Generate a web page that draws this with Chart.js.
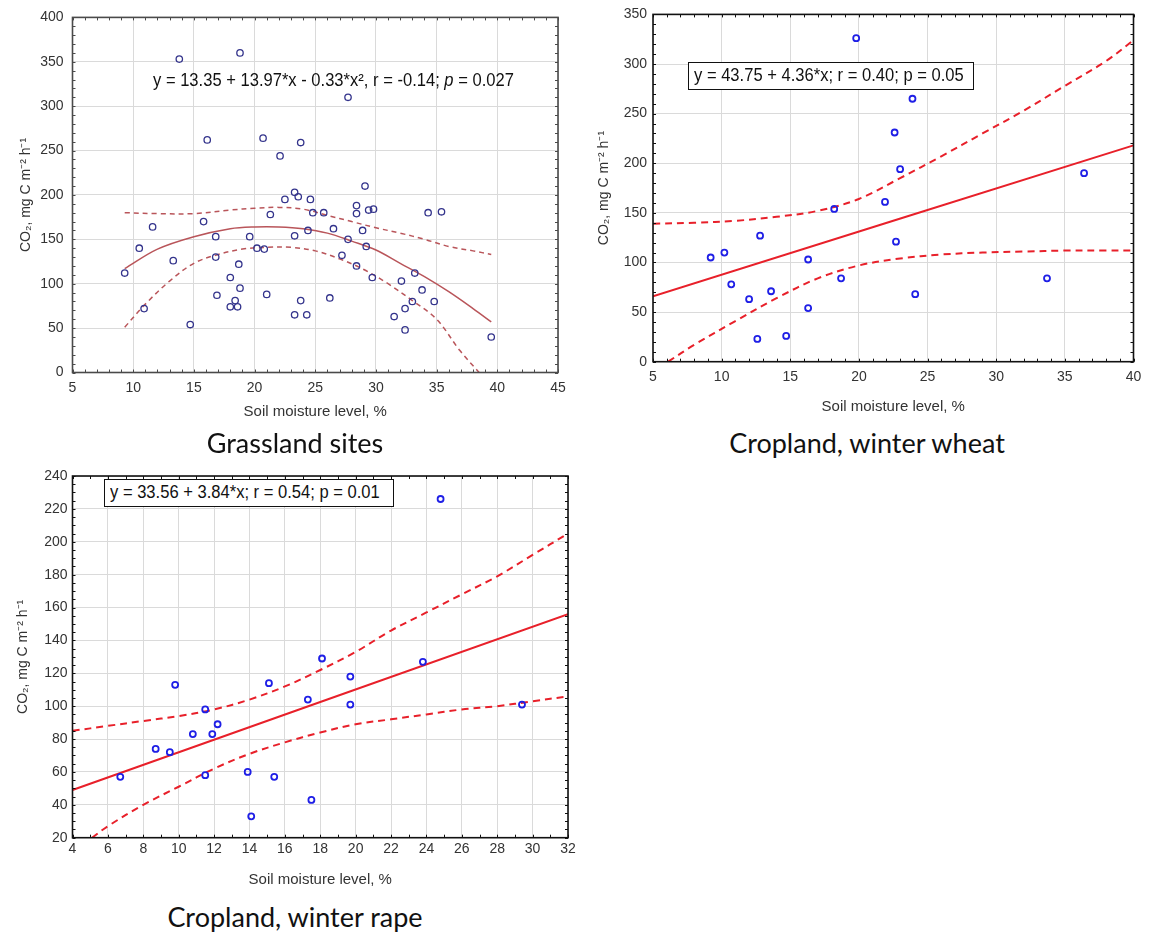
<!DOCTYPE html>
<html lang="en">
<head>
<meta charset="UTF-8" />
<title>Soil CO2 efflux vs soil moisture</title>
<script src="https://cdn.jsdelivr.net/npm/chart.js"></script>
<style>
  body { margin: 0; background: #fff; width: 1150px; height: 933px; position: relative; overflow: hidden; }
  .box { position: absolute; }
  .eq { position: absolute; font-family: 'Liberation Sans', Arial, sans-serif; font-size: 18px; color: #111; white-space: nowrap; line-height: 20px; }
  .eq span { display: inline-block; transform-origin: left center; }
  .framed { box-sizing: border-box; border: 1.5px solid #111; background: #fff; padding: 0 5px; line-height: 25px; }
  .caption { position: absolute; font-family: Lato, 'Open Sans', sans-serif; font-size: 27px; color: #111; transform: translateX(-50%); white-space: nowrap; line-height: 30px; }
</style>
</head>
<body>
<div class="box" style="left:0;top:0;width:575px;height:430px"><canvas id="grass"></canvas></div>
<div class="box" style="left:580px;top:0;width:570px;height:420px"><canvas id="wheat"></canvas></div>
<div class="box" style="left:0;top:460px;width:590px;height:440px"><canvas id="rape"></canvas></div>

<div class="eq" style="left:153px;top:70px"><span style="transform:scaleX(0.92)">y = 13.35 + 13.97*x - 0.33*x², r = -0.14; <i>p</i> = 0.027</span></div>
<div class="eq framed" style="left:688px;top:62px;width:286px;height:28px"><span style="transform:scaleX(0.92)">y = 43.75 + 4.36*x; r = 0.40; p = 0.05</span></div>
<div class="eq framed" style="left:104px;top:479px;width:290px;height:28px"><span style="transform:scaleX(0.92)">y = 33.56 + 3.84*x; r = 0.54; p = 0.01</span></div>

<div class="caption" style="left:295px;top:428px">Grassland sites</div>
<div class="caption" style="left:867px;top:428px">Cropland, winter wheat</div>
<div class="caption" style="left:295px;top:902px">Cropland, winter rape</div>

<script>
// ---- Grassland sites ----
const grassX = [9.3, 10.5, 10.9, 11.6, 13.3, 13.8, 14.7, 15.8, 16.1, 16.8, 16.8, 16.9, 18.0, 18.0, 18.4, 18.6,
  18.8, 18.7, 18.8, 19.6, 20.2, 20.8, 20.7, 21.0, 21.3, 22.1, 22.5, 23.3, 23.6, 23.3, 23.3, 23.8, 23.8, 24.3,
  24.4, 24.6, 24.8, 25.7, 26.2, 26.5, 27.2, 27.7, 27.7, 28.4, 28.4, 28.4, 28.9, 29.1, 29.2, 29.4, 29.8, 29.7,
  31.5, 32.1, 32.4, 32.4, 33.0, 33.2, 33.8, 34.3, 34.8, 35.4, 39.5];
const grassY = [112, 140, 72, 164, 126, 353, 54, 170, 262, 153, 130, 87, 107, 74, 81, 74,
  95, 122, 360, 153, 140, 139, 264, 88, 178, 244, 195, 203, 198, 154, 65, 259, 81, 65,
  160, 195, 180, 180, 84, 162, 132, 310, 150, 188, 179, 120, 160, 210, 142, 183, 184, 107,
  63, 103, 72, 48, 80, 112, 93, 180, 80, 181, 40];
const grassFitX = [9.3, 12, 15, 18, 20, 22, 24, 26, 28, 30, 32, 34, 36, 38, 39.5];
const grassFitY = [117, 139, 153, 162, 164, 164, 162, 157, 148, 138, 123, 108, 91, 72, 57];
const grassUpX = [9.3, 12, 15, 18, 20, 22, 24, 26, 28, 30, 32, 34, 36, 38, 39.5];
const grassUpY = [180, 179, 179, 183, 185, 186, 184, 177, 170, 163, 157, 150, 142, 137, 133];
const grassLowX = [9.3, 11, 13, 15, 17, 19, 21, 23, 25, 27, 29, 31, 33, 35, 36.9, 38.5];
const grassLowY = [51, 77, 103, 123, 133, 139, 141, 141, 137, 128, 116, 100, 81, 60, 25, 0];
const grassXTicks = [5, 10, 15, 20, 25, 30, 35, 40, 45];
const grassYTicks = [0, 50, 100, 150, 200, 250, 300, 350, 400];

// ---- Cropland, winter wheat ----
const wheatX = [9.2, 10.2, 10.7, 12.0, 12.6, 12.8, 13.6, 14.7, 16.3, 16.3, 18.2, 18.7, 19.8, 21.9, 22.6, 22.7, 23.0, 23.9, 24.1, 33.7, 36.4];
const wheatY = [105, 110, 78, 63, 23, 127, 71, 26, 103, 54, 154, 84, 326, 161, 231, 121, 194, 265, 68, 84, 190];
const wheatFitX = [5, 40];
const wheatFitY = [66, 218];
const wheatUpX = [5, 8, 11, 14, 17, 20, 23, 26, 29, 32, 35, 38, 40];
const wheatUpY = [139, 140, 142, 146, 152, 164, 185, 207, 230, 253, 278, 303, 324];
const wheatLowX = [6.1, 8, 11, 14, 17, 20, 23, 26, 29, 32, 35, 38, 40];
const wheatLowY = [0, 17, 41, 64, 84, 97, 104, 108, 110, 111, 112, 112, 112];
const wheatXTicks = [5, 10, 15, 20, 25, 30, 35, 40];
const wheatYTicks = [0, 50, 100, 150, 200, 250, 300, 350];

// ---- Cropland, winter rape ----
const rapeX = [6.7, 8.7, 9.5, 9.8, 10.8, 11.5, 11.5, 11.9, 12.2, 13.9, 14.1, 15.1, 15.4, 17.3, 17.5, 18.1, 19.7, 19.7, 23.8, 24.8, 29.4];
const rapeY = [57, 74, 72, 113, 83, 98, 58, 83, 89, 60, 33, 114, 57, 104, 43, 129, 118, 101, 127, 226, 101];
const rapeFitX = [4, 32];
const rapeFitY = [49, 156];
const rapeUpX = [4, 6, 8, 10, 12, 14, 16, 18, 20, 22, 24, 26, 28, 30, 32];
const rapeUpY = [85, 88, 91, 94, 98, 104, 112, 122, 133, 146, 157, 168, 179, 192, 205];
const rapeLowX = [5.1, 6, 8, 10, 12, 14, 16, 18, 20, 22, 24, 26, 28, 30, 32];
const rapeLowY = [20, 27, 40, 51, 62, 71, 78, 84, 89, 92, 95, 98, 100, 103, 106];
const rapeXTicks = [4, 6, 8, 10, 12, 14, 16, 18, 20, 22, 24, 26, 28, 30, 32];
const rapeYTicks = [20, 40, 60, 80, 100, 120, 140, 160, 180, 200, 220, 240];

const yTitle = 'CO\u2082, mg C m\u207B\u00B2 h\u207B\u00B9';
const xTitle = 'Soil moisture level, %';

const pts = (xs, ys) => xs.map((x, i) => ({ x: x, y: ys[i] }));

// frame round the plot area plus small inward ticks
const framePlugin = {
  id: 'frame',
  afterDatasetsDraw(chart, args, o) {
    const { ctx, chartArea: a, scales: { x, y } } = chart;
    ctx.save();
    ctx.strokeStyle = o.color;
    ctx.lineWidth = 1;
    ctx.beginPath();
    for (let v = x.min; v <= x.max + 1e-9; v += o.xStep) {
      const px = Math.round(x.getPixelForValue(v)) + 0.5;
      ctx.moveTo(px, a.top); ctx.lineTo(px, a.top + o.len);
      ctx.moveTo(px, a.bottom); ctx.lineTo(px, a.bottom - o.len);
    }
    for (let v = y.min; v <= y.max + 1e-9; v += o.yStep) {
      const py = Math.round(y.getPixelForValue(v)) + 0.5;
      ctx.moveTo(a.left, py); ctx.lineTo(a.left + o.len, py);
      ctx.moveTo(a.right, py); ctx.lineTo(a.right - o.len, py);
    }
    ctx.stroke();
    ctx.lineWidth = o.width;
    ctx.strokeRect(a.left, a.top, a.right - a.left, a.bottom - a.top);
    ctx.restore();
  }
};

const fam = "'Liberation Sans', Arial, sans-serif";
const tickFont = { family: fam, size: 14 };
const titleFont = { family: fam, size: 15 };

function makeChart(id, c) {
  const line = (data, dash, width) => ({
    type: 'line', data: data, showLine: true, pointRadius: 0, borderColor: c.lineColor,
    borderWidth: width, borderDash: dash, tension: 0.35, fill: false, order: 2
  });
  return new Chart(document.getElementById(id), {
    type: 'scatter',
    data: {
      datasets: [
        { data: c.points, pointStyle: 'circle', pointRadius: c.r, borderWidth: c.pw,
          borderColor: c.pointColor, backgroundColor: 'rgba(255,255,255,0)', order: 1 },
        line(c.fit, [], c.lw),
        line(c.up, c.dash, c.lw),
        line(c.low, c.dash, c.lw)
      ]
    },
    options: {
      responsive: true,
      maintainAspectRatio: false,
      animation: false,
      layout: { padding: { left: 0, top: c.padTop, right: c.padRight, bottom: 0 } },
      plugins: {
        legend: { display: false },
        tooltip: { enabled: false },
        frame: { color: c.frameColor, width: 1.6, len: 3, xStep: c.xStep, yStep: c.yStep }
      },
      scales: {
        x: {
          type: 'linear', min: c.xTicks[0], max: c.xTicks[c.xTicks.length - 1],
          afterBuildTicks: s => { s.ticks = c.xTicks.map(v => ({ value: v })); },
          afterFit: s => { s.height = c.xAxisH; },
          grid: { color: '#dadada', drawTicks: false },
          border: { display: false },
          ticks: { font: tickFont, color: '#333', padding: c.xTickPad, maxRotation: 0, autoSkip: false },
          title: { display: true, text: xTitle, font: titleFont, color: '#333', padding: { top: 0, bottom: c.xTitlePad } }
        },
        y: {
          type: 'linear', min: c.yTicks[0], max: c.yTicks[c.yTicks.length - 1],
          afterBuildTicks: s => { s.ticks = c.yTicks.map(v => ({ value: v })); },
          afterFit: s => { s.width = c.yAxisW; },
          grid: { color: '#dadada', drawTicks: false },
          border: { display: false },
          ticks: { font: tickFont, color: '#333', padding: c.yTickPad, autoSkip: false },
          title: { display: true, text: yTitle, font: { family: fam, size: 14 }, color: '#333', padding: { top: c.yTitlePad, bottom: 0 } }
        }
      }
    },
    plugins: [framePlugin]
  });
}

makeChart('grass', {
  points: pts(grassX, grassY), fit: pts(grassFitX, grassFitY), up: pts(grassUpX, grassUpY), low: pts(grassLowX, grassLowY),
  xTicks: grassXTicks, yTicks: grassYTicks, xStep: 1, yStep: 10,
  pointColor: '#34348c', r: 3.2, pw: 1.3, lineColor: 'rgb(185,85,90)', lw: 1.5, dash: [5, 4],
  frameColor: '#4a4a4a', padTop: 13, padRight: 17, xAxisH: 57.5, yAxisW: 72.5,
  xTickPad: 7, yTickPad: 9, xTitlePad: 9, yTitlePad: 18
});

makeChart('wheat', {
  points: pts(wheatX, wheatY), fit: pts(wheatFitX, wheatFitY), up: pts(wheatUpX, wheatUpY), low: pts(wheatLowX, wheatLowY),
  xTicks: wheatXTicks, yTicks: wheatYTicks, xStep: 1, yStep: 10,
  pointColor: '#1f1fe6', r: 3, pw: 1.8, lineColor: 'rgb(232,32,42)', lw: 2, dash: [7, 5],
  frameColor: '#111', padTop: 12, padRight: 16.5, xAxisH: 58.3, yAxisW: 73,
  xTickPad: 7, yTickPad: 6, xTitlePad: 4, yTitlePad: 16
});

makeChart('rape', {
  points: pts(rapeX, rapeY), fit: pts(rapeFitX, rapeFitY), up: pts(rapeUpX, rapeUpY), low: pts(rapeLowX, rapeLowY),
  xTicks: rapeXTicks, yTicks: rapeYTicks, xStep: 1, yStep: 5,
  pointColor: '#1f1fe6', r: 3, pw: 1.8, lineColor: 'rgb(232,32,42)', lw: 2, dash: [7, 5],
  frameColor: '#111', padTop: 16, padRight: 22, xAxisH: 62.3, yAxisW: 72.5,
  xTickPad: 3, yTickPad: 5, xTitlePad: 11, yTitlePad: 15
});
</script>
</body>
</html>
